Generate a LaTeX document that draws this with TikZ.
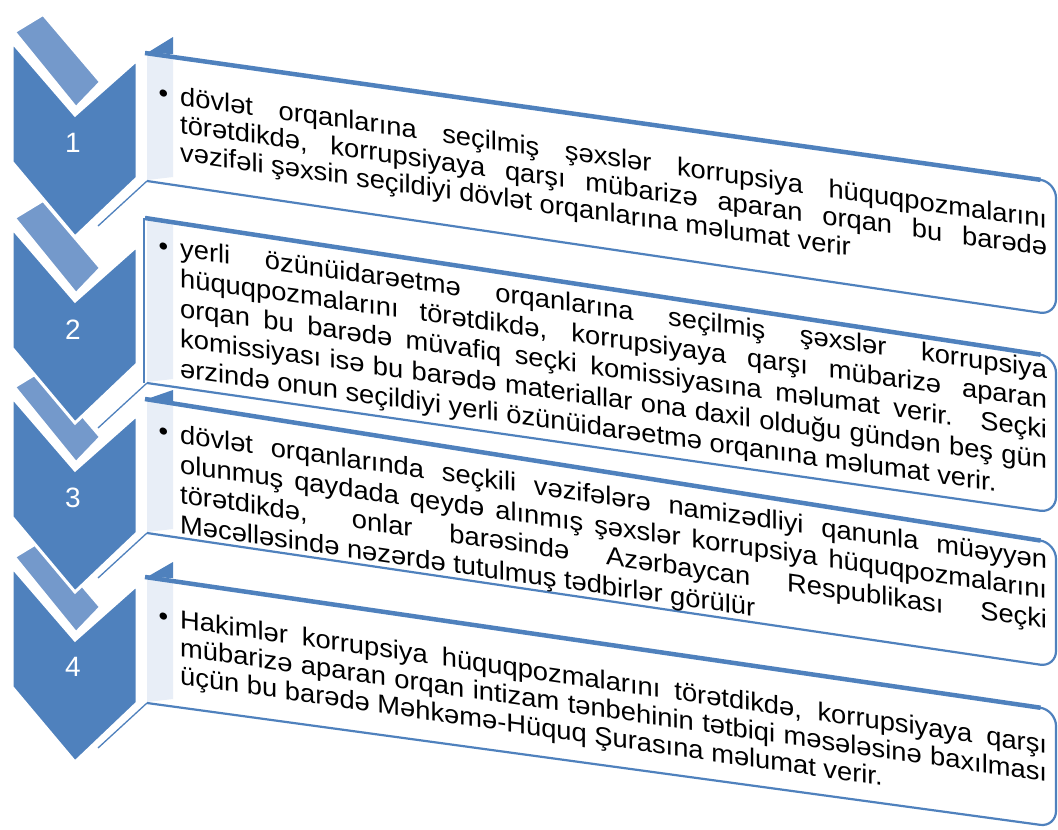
\documentclass[tikz,border=0pt]{standalone}
\usepackage{fontspec}
\setmainfont{Liberation Sans}
\newfontfamily\bxfont[FakeStretch=1.05]{Liberation Sans}
\usetikzlibrary{calc}
\definecolor{chevc}{HTML}{4F81BD}
\definecolor{bandc}{HTML}{7499CB}
\definecolor{stripc}{HTML}{E8EEF7}
\newlength\txw \setlength\txw{867pt}
\newcommand\jline[1]{\hbox to \txw{#1}}
\newcommand\nline[1]{\hbox{#1}}
\newcommand\bul{\llap{\textbullet\hskip 12pt}}
\newcommand\tblk[2]{\vtop{\hsize=\txw\bxfont\fontsize{26pt}{#1}\selectfont\lineskiplimit=-\maxdimen\lineskip=0pt #2}}
\tikzset{
  chevst/.style={fill=chevc, draw=white, line width=3pt, line join=miter},
  bandst/.style={fill=bandc, draw=white, line width=2pt},
  boxline/.style={draw=chevc, line width=2.2pt},
  boxtop/.style={draw=chevc, line width=4.5pt},
  thinline/.style={draw=chevc, line width=1.3pt},
  numst/.style={text=white, font=\fontsize{28pt}{30pt}\selectfont, inner sep=0pt},
  txtst/.style={anchor=base west, inner sep=0pt, transform shape}
}
\newcommand\chevron[1]{%
  \filldraw[bandst] (15,32+#1) -- (43,15+#1) -- (100,82+#1) -- (76,107+#1) -- cycle;
  \filldraw[chevst] (12,42+#1) -- (75,115+#1) -- (137,60+#1) -- (137,178+#1) -- (75,237+#1) -- (12,162+#1) -- cycle;
}
\newcommand\tbox[4]{%
  \fill[white] (147,#1) [rounded corners=16pt]-- (1056,#2) -- (1056,#3) [sharp corners]-- (147,#4) -- cycle;
  \fill[stripc] (147,#1+2) -- (173,#1+6) -- (173,#4-4) -- (147,#4-1) -- cycle;
  \draw[boxline] (147,#1) [rounded corners=16pt]-- (1056,#2) -- (1056,#3) [sharp corners]-- (147,#4);
  \draw[boxtop] (145,#1) -- ($(147,#1)!0.983!(1056,#2)$);
  \draw[thinline] (147,#4) -- ++(-49,45);
}
\begin{document}
\begin{tikzpicture}[x=1pt,y=-1pt]
\useasboundingbox (0,0) rectangle (1058,830);
\fill[white] (0,0) rectangle (1058,830);
% chevrons, bottom to top
\chevron{525}
\chevron{355}
\chevron{186}
\chevron{0}
\node[numst] (n1) at (73,143) {1};
\node[numst] (n2) at (73,330) {2};
\node[numst] (n3) at (73,498) {3};
\node[numst] (n4) at (73,667) {4};
% boxes
\tbox{53}{182}{315}{181}
\fill[chevc] (147,53) -- (173,37) -- (173,54) -- cycle;
\tbox{218}{357}{513}{383}
\draw[chevc, line width=1.5pt] (144,218) -- (144,383);
\tbox{399}{543}{667}{533}
\fill[chevc] (147,399) -- (173,390) -- (173,402) -- cycle;
\tbox{577}{710}{827}{703}
\fill[chevc] (147,577) -- (173,562) -- (173,578) -- cycle;
% texts
\begin{scope}[shift={(180,105)}, yslant=-0.142]
\node[txtst] (t1) at (0,0) {\tblk{28pt}{%
\jline{\bul dövlət orqanlarına seçilmiş şəxslər korrupsiya hüquqpozmalarını}
\jline{törətdikdə, korrupsiyaya qarşı mübarizə aparan orqan bu barədə}
\nline{vəzifəli şəxsin seçildiyi dövlət orqanlarına məlumat verir}}};
\end{scope}
\begin{scope}[shift={(180,257)}, yslant=-0.14]
\node[txtst] (t2) at (0,0) {\tblk{30pt}{%
\jline{\bul yerli özünüidarəetmə orqanlarına seçilmiş şəxslər korrupsiya}
\jline{hüquqpozmalarını törətdikdə, korrupsiyaya qarşı mübarizə aparan}
\jline{orqan bu barədə müvafiq seçki komissiyasına məlumat verir. Seçki}
\jline{komissiyası isə bu barədə materiallar ona daxil olduğu gündən beş gün}
\nline{ərzində onun seçildiyi yerli özünüidarəetmə orqanına məlumat verir.}}};
\end{scope}
\begin{scope}[shift={(180,443)}, yslant=-0.145]
\node[txtst] (t3) at (0,0) {\tblk{30pt}{%
\jline{\bul dövlət orqanlarında seçkili vəzifələrə namizədliyi qanunla müəyyən}
\jline{olunmuş qaydada qeydə alınmış şəxslər korrupsiya hüquqpozmalarını}
\jline{törətdikdə, onlar barəsində Azərbaycan Respublikası Seçki}
\nline{Məcəlləsində nəzərdə tutulmuş tədbirlər görülür}}};
\end{scope}
\begin{scope}[shift={(180,628)}, yslant=-0.145]
\node[txtst] (t4) at (0,0) {\tblk{28pt}{%
\jline{\bul Hakimlər korrupsiya hüquqpozmalarını törətdikdə, korrupsiyaya qarşı}
\jline{mübarizə aparan orqan intizam tənbehinin tətbiqi məsələsinə baxılması}
\nline{üçün bu barədə Məhkəmə-Hüquq Şurasına məlumat verir.}}};
\end{scope}
\end{tikzpicture}
\end{document}
